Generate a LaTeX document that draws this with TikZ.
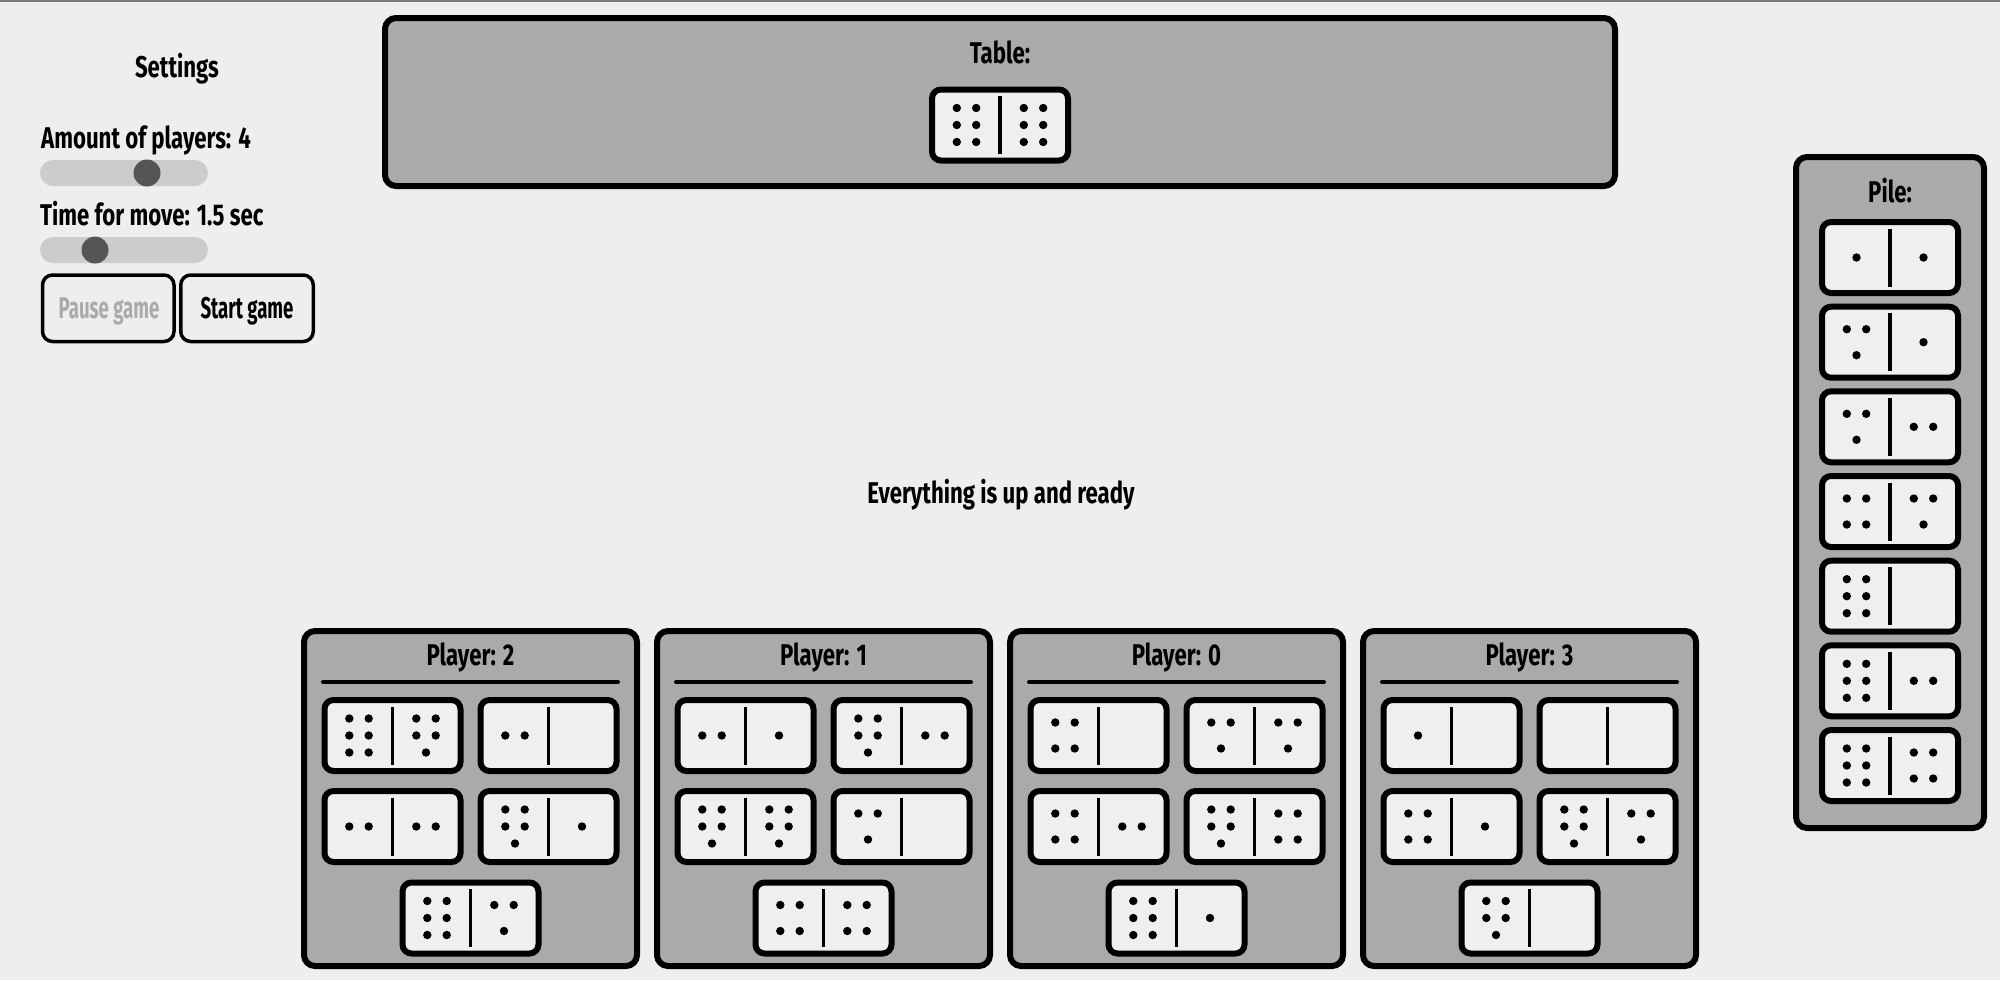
\documentclass[tikz,border=0pt]{standalone}
\usepackage{fontspec}
\setmainfont{Fira Sans}[FakeStretch=0.74]
\definecolor{bg}{HTML}{EEEEEE}
\definecolor{panelgray}{HTML}{AAAAAA}
\definecolor{domfill}{HTML}{EFEFEF}
\definecolor{trackgray}{HTML}{CCCCCC}
\definecolor{knobgray}{HTML}{555555}
\definecolor{topgray}{HTML}{7A7A7A}

% pips on one half of a domino: x, y, count
\newcommand{\pips}[3]{%
  \ifcase#3\relax
  \or \fill (#1,#2) circle (4.2pt);
  \or \fill (#1-9.7,#2) circle (4.2pt) (#1+9.7,#2) circle (4.2pt);
  \or \fill (#1-9.7,#2-13) circle (4.2pt) (#1+9.7,#2-13) circle (4.2pt)
            (#1,#2+13) circle (4.2pt);
  \or \fill (#1-9.7,#2-13) circle (4.2pt) (#1+9.7,#2-13) circle (4.2pt)
            (#1-9.7,#2+13) circle (4.2pt) (#1+9.7,#2+13) circle (4.2pt);
  \or \fill (#1-9.7,#2-17) circle (4.2pt) (#1+9.7,#2-17) circle (4.2pt)
            (#1-9.7,#2) circle (4.2pt) (#1+9.7,#2) circle (4.2pt)
            (#1,#2+17) circle (4.2pt);
  \or \fill (#1-9.7,#2-17) circle (4.2pt) (#1+9.7,#2-17) circle (4.2pt)
            (#1-9.7,#2) circle (4.2pt) (#1+9.7,#2) circle (4.2pt)
            (#1-9.7,#2+17) circle (4.2pt) (#1+9.7,#2+17) circle (4.2pt);
  \fi}

% domino: centre x, centre y, left pips, right pips
\newcommand{\domino}[4]{%
  \draw[domino] (#1-68,#2-35.5) rectangle (#1+68,#2+35.5);
  \draw[divider] (#1,#2-29) -- (#1,#2+29);
  \pips{#1-33.5}{#2}{#3}
  \pips{#1+33.5}{#2}{#4}}

\begin{document}
\begin{tikzpicture}[x=1pt,y=-1pt,
    txt/.style={inner sep=0pt,anchor=base,font=\fontsize{30}{36}\selectfont\bfseries},
    btntxt/.style={txt,font=\fontsize{30}{36}\selectfont\bfseries\addfontfeatures{FakeStretch=0.62}},
    panel/.style={draw,line width=6pt,fill=panelgray,rounded corners=11pt},
    domino/.style={draw,line width=6pt,fill=domfill,rounded corners=9pt},
    divider/.style={line width=3.5pt},
    rule/.style={line width=4pt,line cap=round},
    track/.style={fill=trackgray,rounded corners=13pt},
    knob/.style={fill=knobgray},
    button/.style={draw,line width=3.5pt,fill=bg,rounded corners=10pt}]
    % Background
    \useasboundingbox (0,0) rectangle (2000,980);
    \fill[bg] (0,0) rectangle (2000,980);
    \fill[topgray] (0,0) rectangle (2000,2);

    % Settings
    \node[txt] (settings) at (177,77) {Settings};
    \node[txt,anchor=base west] (players) at (41,148) {Amount of players: 4};
    \fill[track] (40,160) rectangle (208,186);
    \fill[knob] (147,173) circle (13.5pt);
    \node[txt,anchor=base west] (time) at (40,225) {Time for move: 1.5 sec};
    \fill[track] (40,237) rectangle (208,263);
    \fill[knob] (95,250) circle (13.5pt);

    % Buttons
    \draw[button] (42.5,275) rectangle (174,341.5);
    \draw[button] (180.75,275) rectangle (313.25,341.5);
    \node[btntxt,text=panelgray] (pause) at (109,318) {Pause game};
    \node[btntxt] (start) at (247,318) {Start game};

    % Table
    \draw[panel] (385,18) rectangle (1615,186);
    \node[txt] (table) at (1000,63) {Table:};
    \domino{1000}{125}{6}{6}

    % Pile
    \draw[panel] (1796,157) rectangle (1984,828);
    \node[txt] (pile) at (1890,202) {Pile:};
    \foreach \yy/\lft/\rgt in {257.5/1/1,342.2/3/1,426.8/3/2,511.5/4/3,
                               596.2/6/0,680.8/6/2,765.5/6/4}
      {\domino{1890}{\yy}{\lft}{\rgt}}

    % Status
    \node[txt] (status) at (1001,503) {Everything is up and ready};

    % Player panels
    \foreach \n/\x in {2/301,1/654,0/1007,3/1360} {
      \draw[panel] (\x+3,631) rectangle (\x+336,966);
      \node[txt] (player\n) at (\x+169.5,665) {Player: \n};
      \draw[rule] (\x+22,682) -- (\x+317,682);
    }

    % Player 2 hand
    \domino{392.5}{735.5}{6}{5}
    \domino{548.5}{735.5}{2}{0}
    \domino{392.5}{826.5}{2}{2}
    \domino{548.5}{826.5}{5}{1}
    \domino{470.5}{918}{6}{3}
    % Player 1 hand
    \domino{745.5}{735.5}{2}{1}
    \domino{901.5}{735.5}{5}{2}
    \domino{745.5}{826.5}{5}{5}
    \domino{901.5}{826.5}{3}{0}
    \domino{823.5}{918}{4}{4}
    % Player 0 hand
    \domino{1098.5}{735.5}{4}{0}
    \domino{1254.5}{735.5}{3}{3}
    \domino{1098.5}{826.5}{4}{2}
    \domino{1254.5}{826.5}{5}{4}
    \domino{1176.5}{918}{6}{1}
    % Player 3 hand
    \domino{1451.5}{735.5}{1}{0}
    \domino{1607.5}{735.5}{0}{0}
    \domino{1451.5}{826.5}{4}{1}
    \domino{1607.5}{826.5}{5}{3}
    \domino{1529.5}{918}{5}{0}
\end{tikzpicture}
\end{document}
